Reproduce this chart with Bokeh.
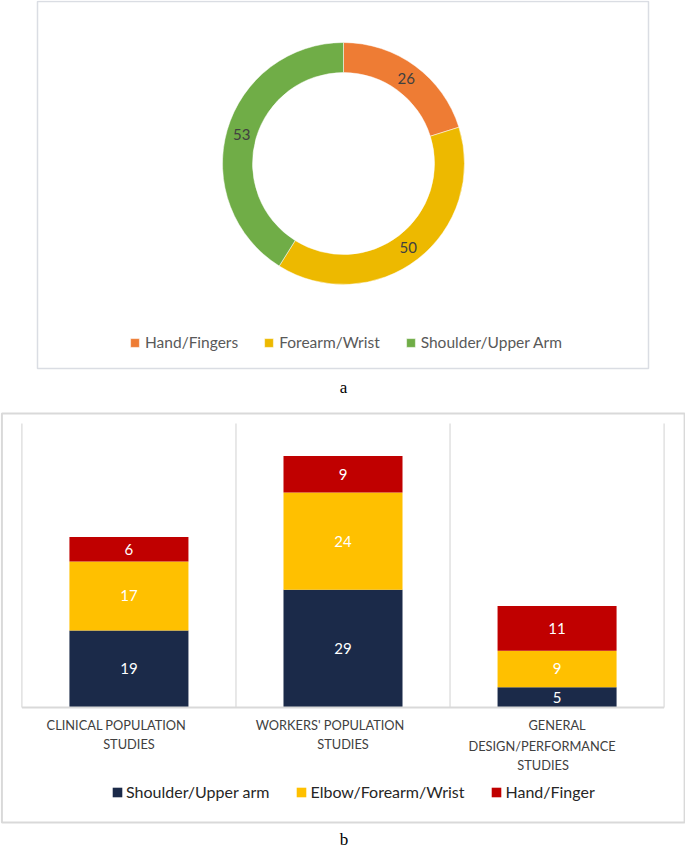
import math
from bokeh.plotting import figure
from bokeh.models import ColumnDataSource, Range1d, FactorRange
from bokeh.layouts import column
from bokeh.embed import file_html
from bokeh.resources import INLINE
from bokeh.core.properties import value

# ---------------- data: panel a ----------------
regions_a = ["Hand/Fingers", "Forearm/Wrist", "Shoulder/Upper Arm"]
counts_a = [26, 50, 53]
colors_a = ["#EE7C34", "#EDB900", "#70AD47"]

# ---------------- data: panel b ----------------
study_types = ["CLINICAL POPULATION STUDIES",
               "WORKERS' POPULATION STUDIES",
               "GENERAL DESIGN/PERFORMANCE STUDIES"]
study_labels = ["CLINICAL POPULATION\nSTUDIES",
                "WORKERS' POPULATION\nSTUDIES",
                "GENERAL\nDESIGN/PERFORMANCE\nSTUDIES"]
body_regions_b = ["Shoulder/Upper arm", "Elbow/Forearm/Wrist", "Hand/Finger"]
shoulder_upper_arm = [19, 29, 5]
elbow_forearm_wrist = [17, 24, 9]
hand_finger = [6, 9, 11]
colors_b = ["#1B2A49", "#FFC000", "#C00000"]
y_max_b = 70

FONT = "Lato"
W = 685

# ================= panel a : doughnut =================
HA = 400
CX, CY = 343, 163          # doughnut centre (page pixels)
pa = figure(width=W, height=HA, output_backend="svg", toolbar_location=None,
            x_range=Range1d(0 - CX, W - CX), y_range=Range1d(CY - HA, CY),
            x_axis_location=None, y_axis_location=None, min_border=0)
pa.grid.visible = False
pa.outline_line_color = None
pa.background_fill_color = "white"
pa.border_fill_color = "white"

# panel frame
pa.quad(left=[37 - CX], right=[648 - CX], top=[CY - 1], bottom=[CY - 368],
        fill_color=None, line_color="#DADDE3", line_width=1.5)

R_OUT, R_IN = 121, 91
total = sum(counts_a)
starts, ends, lx, ly = [], [], [], []
cum = 0
for c in counts_a:
    a0 = math.pi / 2 - 2 * math.pi * cum / total
    a1 = math.pi / 2 - 2 * math.pi * (cum + c) / total
    starts.append(a1)
    ends.append(a0)
    mid = (a0 + a1) / 2
    r_mid = (R_OUT + R_IN) / 2
    lx.append(r_mid * math.cos(mid))
    ly.append(r_mid * math.sin(mid))
    cum += c

src_a = ColumnDataSource(dict(region=regions_a, count=counts_a,
                              txt=[str(c) for c in counts_a],
                              start=starts, end=ends, color=colors_a,
                              lx=lx, ly=ly))
pa.annular_wedge(x=0, y=0, inner_radius=R_IN, outer_radius=R_OUT,
                 start_angle="start", end_angle="end",
                 fill_color="color", line_color="white", line_width=0.5,
                 legend_field="region", source=src_a)
pa.text(x="lx", y="ly", text="txt", source=src_a,
        text_align="center", text_baseline="middle",
        text_font=value(FONT), text_font_size="15px", text_color="#404040")

pa.text(x=[0], y=[CY - 387], text=["a"], text_align="center",
        text_baseline="middle", text_font=value("Liberation Serif"),
        text_font_size="17px", text_color="black")

lg = pa.legend[0]
lg.location = (129, HA - 351)
lg.orientation = "horizontal"
lg.label_text_font = FONT
lg.label_text_font_size = "15.5px"
lg.label_text_color = "#595959"
lg.glyph_width = 11
lg.glyph_height = 11
lg.label_standoff = 5
lg.spacing = 25
lg.padding = 0
lg.margin = 0
lg.border_line_color = None
lg.background_fill_alpha = 0

# ================= panel b : stacked bars =================
HB = 453
TOP_B = 400                 # page y of this figure's top edge
BASE_Y = 707                # page y of the value 0
ppu = 284 / y_max_b         # pixels per unit of the value axis
CAT_X0, CAT_W = 21, 214     # page x where categories begin, px per category


def vy(page_y):
    return (BASE_Y - page_y) / ppu


def vx(page_x):
    return (page_x - CAT_X0) / CAT_W


pb = figure(width=W, height=HB, output_backend="svg", toolbar_location=None,
            x_range=FactorRange(factors=study_types, range_padding=0.1,
                                range_padding_units="absolute"),
            y_range=Range1d(vy(TOP_B + HB), vy(TOP_B)),
            x_axis_location=None, y_axis_location=None, min_border=0)
pb.grid.visible = False
pb.outline_line_color = None
pb.background_fill_color = "white"
pb.border_fill_color = "white"

# panel frame
pb.quad(left=[vx(1)], right=[vx(683.5)], top=[vy(413)], bottom=[vy(822)],
        fill_color=None, line_color="#D9D9D9", line_width=2)

# category separators
n = len(study_types)
pb.segment(x0=list(range(n + 1)), y0=0, x1=list(range(n + 1)), y1=y_max_b,
           line_color="#D9D9D9", line_width=1.2)

src_b = ColumnDataSource(dict(study=study_types,
                              s=shoulder_upper_arm,
                              e=elbow_forearm_wrist,
                              h=hand_finger))
pb.vbar_stack(["s", "e", "h"], x="study", width=0.556, color=colors_b,
              line_color=None, source=src_b, legend_label=body_regions_b)

# axis baseline
pb.segment(x0=[0], y0=[0], x1=[n], y1=[0], line_color="#D9D9D9", line_width=2)

# segment labels
tx, ty, tt = [], [], []
for i, st in enumerate(study_types):
    base = 0
    for series in (shoulder_upper_arm, elbow_forearm_wrist, hand_finger):
        v = series[i]
        tx.append(st)
        ty.append(base + v / 2)
        tt.append(str(v))
        base += v
pb.text(x=tx, y=ty, text=tt, text_align="center", text_baseline="middle",
        text_font=value(FONT), text_font_size="15px", text_color="white")

# category labels (wrapped lines, placed like the original's wrapping)
line_shift = [[-12.5, 0], [-13, 0], [0, -15, -14]]     # px from category centre
line_page_y = [[724, 743], [724, 743], [724, 745, 764]]
cx_, cy_, ct_, co_ = [], [], [], []
for st, lab, shifts, ys in zip(study_types, study_labels, line_shift, line_page_y):
    for line, sh, yy in zip(lab.split("\n"), shifts, ys):
        cx_.append(st)
        cy_.append(vy(yy))
        ct_.append(line)
        co_.append(sh)
pb.text(x=cx_, y=cy_, text=ct_, x_offset=co_,
        text_align="center", text_baseline="middle",
        text_font=value(FONT), text_font_size="12.8px", text_color="#404040")

pb.text(x=[vx(343)], y=[vy(839)], text=["b"], text_align="center",
        text_baseline="middle", text_font=value("Liberation Serif"),
        text_font_size="17px", text_color="black")

lb = pb.legend[0]
lb.location = (111, TOP_B + HB - 801)
lb.orientation = "horizontal"
lb.label_text_font = FONT
lb.label_text_font_size = "16px"
lb.label_text_color = "#262626"
lb.glyph_width = 12
lb.glyph_height = 12
lb.label_standoff = 3
lb.spacing = 26
lb.padding = 0
lb.margin = 0
lb.border_line_color = None
lb.background_fill_alpha = 0

layout = column(pa, pb, spacing=0)
open("out.html", "w").write(file_html(layout, INLINE))
